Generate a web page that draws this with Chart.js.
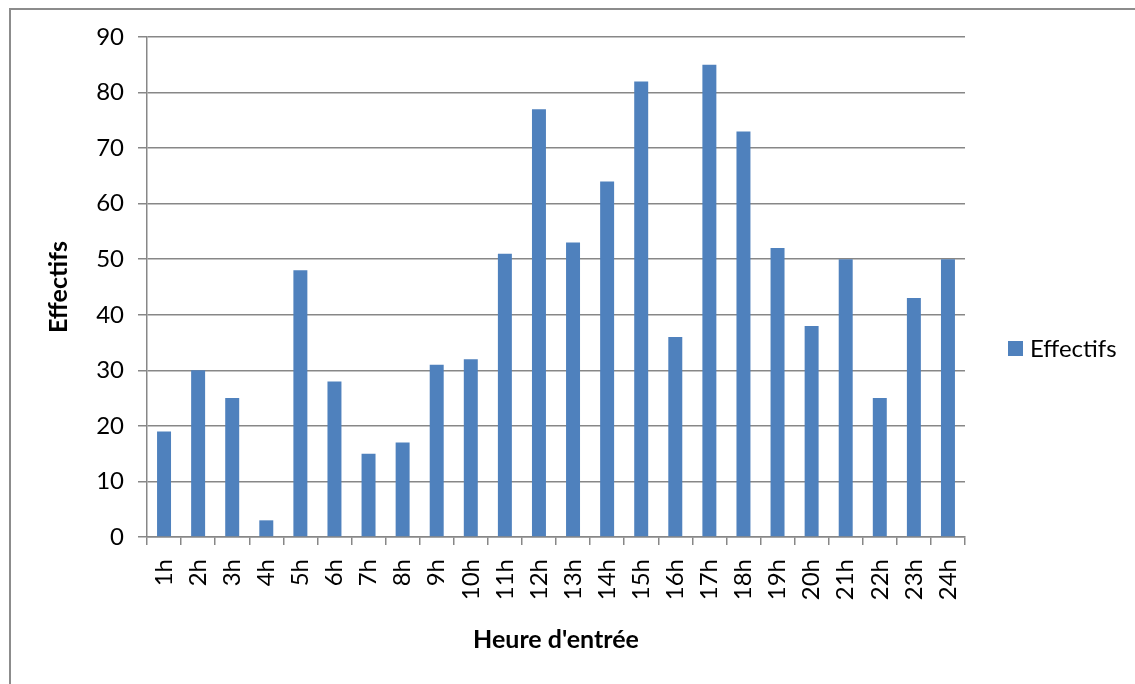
<!DOCTYPE html>
<html>
<head>
<meta charset="utf-8">
<script src="https://cdn.jsdelivr.net/npm/chart.js@4"></script>
<style>
  html, body { margin: 0; padding: 0; background: #fff; }
  #wrap { width: 1135px; height: 684px; position: relative; }
</style>
</head>
<body>
<div id="wrap"><canvas id="myChart"></canvas></div>
<script>
var hours = ['1h', '2h', '3h', '4h', '5h', '6h', '7h', '8h', '9h', '10h', '11h', '12h',
  '13h', '14h', '15h', '16h', '17h', '18h', '19h', '20h', '21h', '22h', '23h', '24h'];
var effectifs = [19, 30, 25, 3, 48, 28, 15, 17, 31, 32, 51, 77, 53, 64, 82, 36, 85, 73, 52, 38, 50, 25, 43, 50];
var yTicks = [0, 10, 20, 30, 40, 50, 60, 70, 80, 90];

var FONT = 'Lato, "Liberation Sans", sans-serif';
var GRID = '#878787';

// frame round the chart, legend at the right
var framePlugin = {
  id: 'frame',
  afterDraw: function (chart) {
    var ctx = chart.ctx;
    ctx.save();
    ctx.strokeStyle = '#8c8c8c';
    ctx.lineWidth = 2;
    ctx.strokeRect(10, 9, 1200, 800);

    var ds = chart.data.datasets[0];
    ctx.fillStyle = ds.backgroundColor;
    ctx.fillRect(1008, 341, 15, 15);
    ctx.fillStyle = '#000';
    ctx.font = '24px ' + FONT;
    ctx.textBaseline = 'middle';
    ctx.fillText(ds.label, 1030, 349);
    ctx.restore();
  }
};

new Chart(document.getElementById('myChart'), {
  type: 'bar',
  data: {
    labels: hours,
    datasets: [{
      label: 'Effectifs',
      data: effectifs,
      backgroundColor: '#4F81BD',
      barPercentage: 0.41,
      categoryPercentage: 1.0
    }]
  },
  options: {
    responsive: true,
    maintainAspectRatio: false,
    animation: false,
    layout: { padding: { top: 37, right: 170, bottom: 0, left: 0 } },
    plugins: {
      legend: { display: false },
      tooltip: { enabled: false }
    },
    scales: {
      x: {
        offset: true,
        grid: {
          offset: true,
          drawOnChartArea: false,
          drawTicks: true,
          tickLength: 8,
          color: GRID,
          lineWidth: 1.5
        },
        border: { color: GRID, width: 1.5 },
        ticks: {
          color: '#000',
          font: { family: FONT, size: 24 },
          minRotation: 90,
          maxRotation: 90,
          padding: 14,
          autoSkip: false
        },
        title: {
          display: true,
          text: "Heure d'entrée",
          color: '#000',
          font: { family: FONT, size: 25, weight: 'bold' },
          padding: { top: 0, bottom: 29 }
        },
        afterFit: function (scale) { scale.height = 147; }
      },
      y: {
        min: 0,
        max: 90,
        afterBuildTicks: function (scale) {
          scale.ticks = yTicks.map(function (v) { return { value: v }; });
        },
        grid: {
          color: GRID,
          lineWidth: 1.5,
          tickLength: 9
        },
        border: { color: GRID, width: 1.5 },
        ticks: {
          color: '#000',
          font: { family: FONT, size: 24 },
          padding: 14
        },
        title: {
          display: true,
          text: 'Effectifs',
          color: '#000',
          font: { family: FONT, size: 25, weight: 'bold' },
          padding: { top: 44, bottom: 0 }
        },
        afterFit: function (scale) { scale.width = 147; }
      }
    }
  },
  plugins: [framePlugin]
});
</script>
</body>
</html>
